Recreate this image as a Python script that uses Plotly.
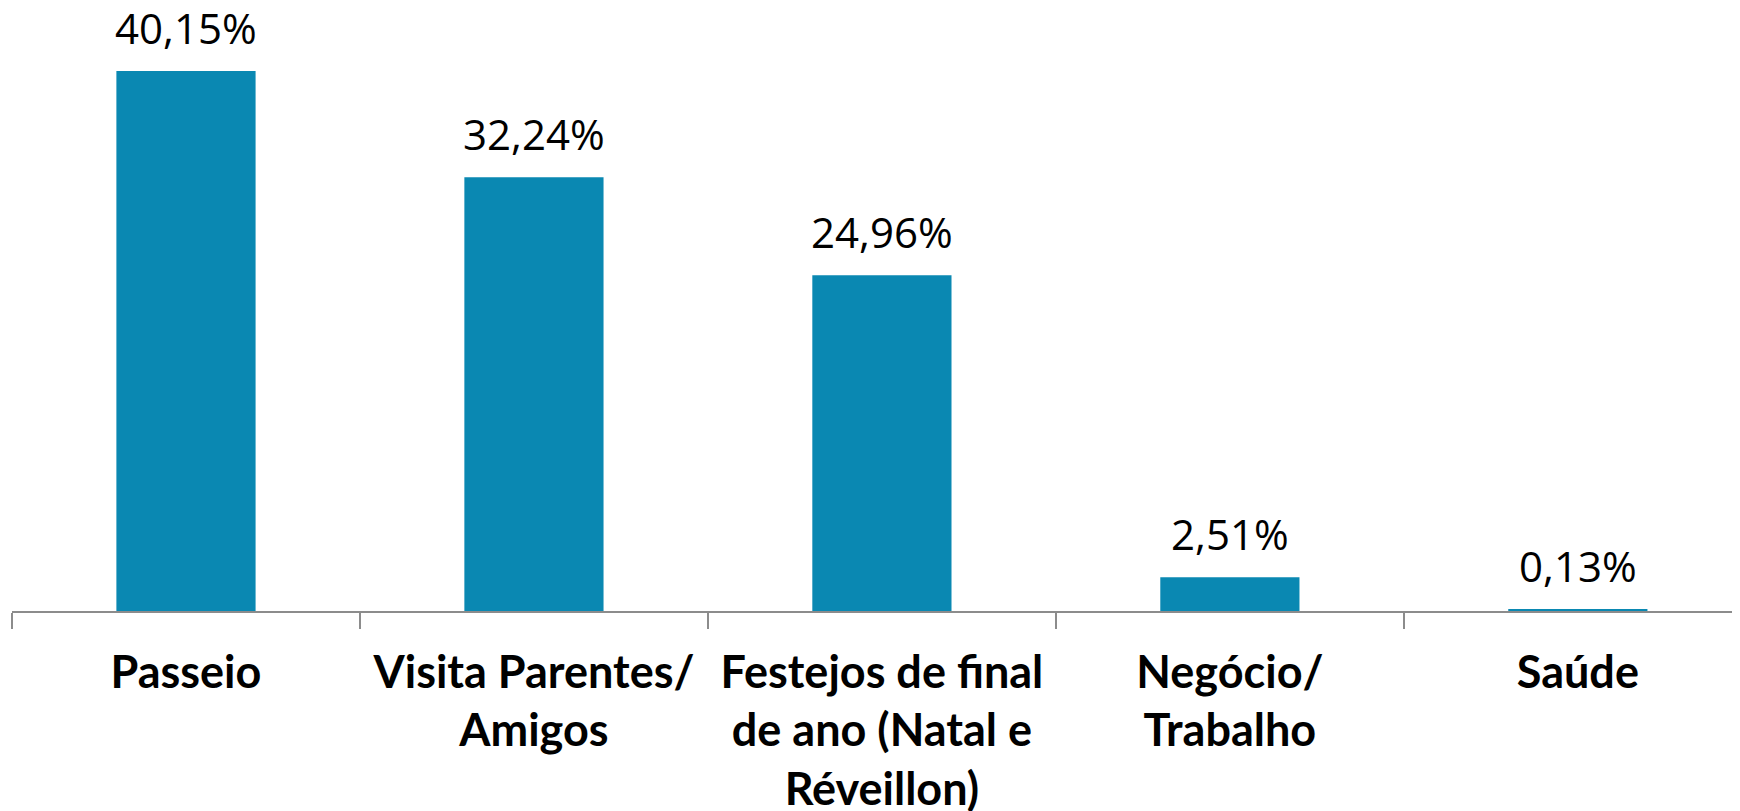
import plotly.graph_objects as go

categories = [
    "Passeio",
    "Visita Parentes/<br>Amigos",
    "Festejos de final<br>de ano (Natal e<br>Réveillon)",
    "Negócio/<br>Trabalho",
    "Saúde",
]
values = [40.15, 32.24, 24.96, 2.51, 0.13]
value_labels = ["40,15%", "32,24%", "24,96%", "2,51%", "0,13%"]

bar_color = "#0A88B2"
axis_color = "#8C8C8C"
font_family = "Open Sans, Noto Sans, sans-serif"
label_family = "Lato, Open Sans, sans-serif"

fig = go.Figure()
fig.add_trace(go.Bar(
    x=categories,
    y=values,
    width=0.4,
    marker=dict(color=bar_color, line=dict(width=0)),
    hoverinfo="skip",
))

# value labels sit a bit higher than plotly's "outside" text would
for cat, val, lab in zip(categories, values, value_labels):
    fig.add_annotation(
        x=cat, y=val, text=lab,
        showarrow=False, yanchor="bottom", yshift=13,
        font=dict(family=font_family, size=42, color="black"),
    )

# page has an 8px body margin, so the margins here are trimmed to match
fig.update_layout(
    width=1740, height=811,
    margin=dict(l=4, r=0, t=0, b=208, autoexpand=False),
    plot_bgcolor="white",
    paper_bgcolor="white",
    showlegend=False,
)
fig.update_xaxes(
    range=[-0.5, 4.489],
    showline=True, linecolor=axis_color, linewidth=1.5,
    ticks="outside", ticklen=16, tickcolor=axis_color, tickwidth=1.5,
    tickson="boundaries",
    tickangle=0, automargin=False,
    ticklabelstandoff=21,
    showgrid=False,
    tickfont=dict(family=label_family, size=45, color="black", weight="bold"),
)
fig.update_yaxes(range=[0, 44.83], visible=False, showgrid=False)

fig.write_html("out.html")
